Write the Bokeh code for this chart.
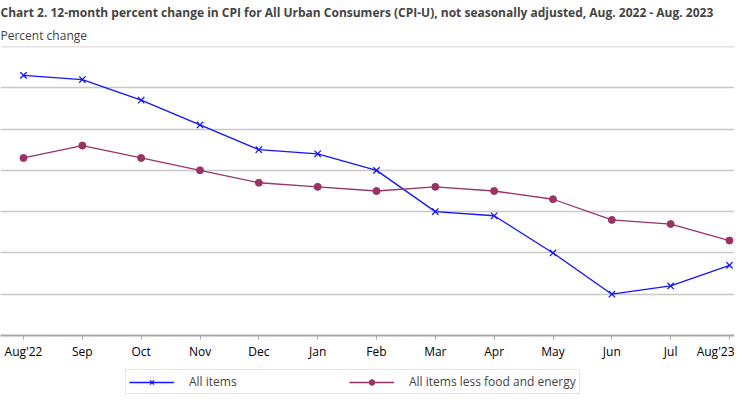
from bokeh.plotting import figure
from bokeh.layouts import column
from bokeh.models import Legend, LegendItem, FixedTicker, Range1d, Span, Title
from bokeh.embed import file_html
from bokeh.resources import INLINE

categories = ["Aug'22", "Sep", "Oct", "Nov", "Dec", "Jan", "Feb", "Mar", "Apr", "May", "Jun", "Jul", "Aug'23"]
all_items = [8.3, 8.2, 7.7, 7.1, 6.5, 6.4, 6.0, 5.0, 4.9, 4.0, 3.0, 3.2, 3.7]
core_items = [6.3, 6.6, 6.3, 6.0, 5.7, 5.6, 5.5, 5.6, 5.5, 5.3, 4.8, 4.7, 4.3]
y_ticks = [2, 3, 4, 5, 6, 7, 8, 9]
series_names = ["All items", "All items less food and energy"]
title_text = "Chart 2. 12-month percent change in CPI for All Urban Consumers (CPI-U), not seasonally adjusted, Aug. 2022 - Aug. 2023"
subtitle_text = "Percent change"

xs = list(range(len(categories)))
FONT = "Open Sans"
blue = "#1414ff"
maroon = "#993366"

p = figure(frame_width=734, frame_height=289, output_backend="svg", toolbar_location=None,
           x_range=Range1d(-0.391, 12.085), y_range=Range1d(y_ticks[0], y_ticks[-1]),
           min_border_left=0, min_border_right=0, min_border_top=42, min_border_bottom=29)
p.outline_line_color = None
p.background_fill_color = "white"
p.title.visible = False

p.yaxis.visible = False
p.ygrid.ticker = FixedTicker(ticks=y_ticks)
p.ygrid.grid_line_color = "#c8c8c8"
p.ygrid.grid_line_width = 1.3
p.xgrid.grid_line_color = None

p.xaxis.ticker = FixedTicker(ticks=xs)
p.xaxis.major_label_overrides = {i: c for i, c in zip(xs, categories)}
p.xaxis.axis_line_color = "#a8a8a8"
p.xaxis.axis_line_width = 2
p.xaxis.major_tick_line_color = "#a8a8a8"
p.xaxis.major_tick_in = 0
p.xaxis.major_tick_out = 4
p.xaxis.minor_tick_line_color = None
p.xaxis.major_label_standoff = 3
p.xaxis.major_label_text_font = FONT
p.xaxis.major_label_text_font_size = "12px"
p.xaxis.major_label_text_color = "black"

p.add_layout(Span(location=y_ticks[-1], dimension="width", line_color="#c8c8c8", line_width=1.3))

p.line(xs, all_items, line_color=blue, line_width=1.3)
p.scatter(xs, all_items, marker="x", size=9, line_color=blue, line_width=1.3)
p.line(xs, core_items, line_color=maroon, line_width=1.3)
p.scatter(xs, core_items, marker="circle", size=7, fill_color=maroon, line_color=maroon)

p.add_layout(Title(text=subtitle_text, text_font=FONT, text_font_size="12px",
                   text_font_style="normal", align="left", offset=0, standoff=6), "above")
p.add_layout(Title(text=title_text, text_font=FONT, text_font_size="12px",
                   text_font_style="bold", align="left", offset=0, standoff=2), "above")

# legend strip below the chart (its renderers hold the series but lie outside its ranges)
lg = figure(width=734, height=35, output_backend="svg", toolbar_location=None,
            x_range=Range1d(100, 101), y_range=Range1d(100, 101),
            min_border_left=0, min_border_right=0, min_border_top=0, min_border_bottom=0)
lg.axis.visible = False
lg.grid.visible = False
lg.outline_line_color = None
lr1 = lg.line(xs, all_items, line_color=blue, line_width=1.3)
ls1 = lg.scatter(xs, all_items, marker="x", size=9, line_color=blue, line_width=1.3)
lr2 = lg.line(xs, core_items, line_color=maroon, line_width=1.3)
ls2 = lg.scatter(xs, core_items, marker="circle", size=7, fill_color=maroon, line_color=maroon)

legend = Legend(items=[LegendItem(label=series_names[0], renderers=[lr1, ls1]),
                       LegendItem(label=series_names[1], renderers=[lr2, ls2])],
                orientation="horizontal", location=(125, 5), margin=0,
                glyph_width=45, glyph_height=14, label_standoff=15, label_width=150,
                spacing=10, padding=3, label_text_font=FONT, label_text_font_size="12px",
                label_height=14,
                border_line_color="#c8c8c8", border_line_width=1.5, background_fill_alpha=1)
lg.add_layout(legend, "center")

layout = column(p, lg, spacing=0)
open("out.html", "w").write(file_html(layout, INLINE))
